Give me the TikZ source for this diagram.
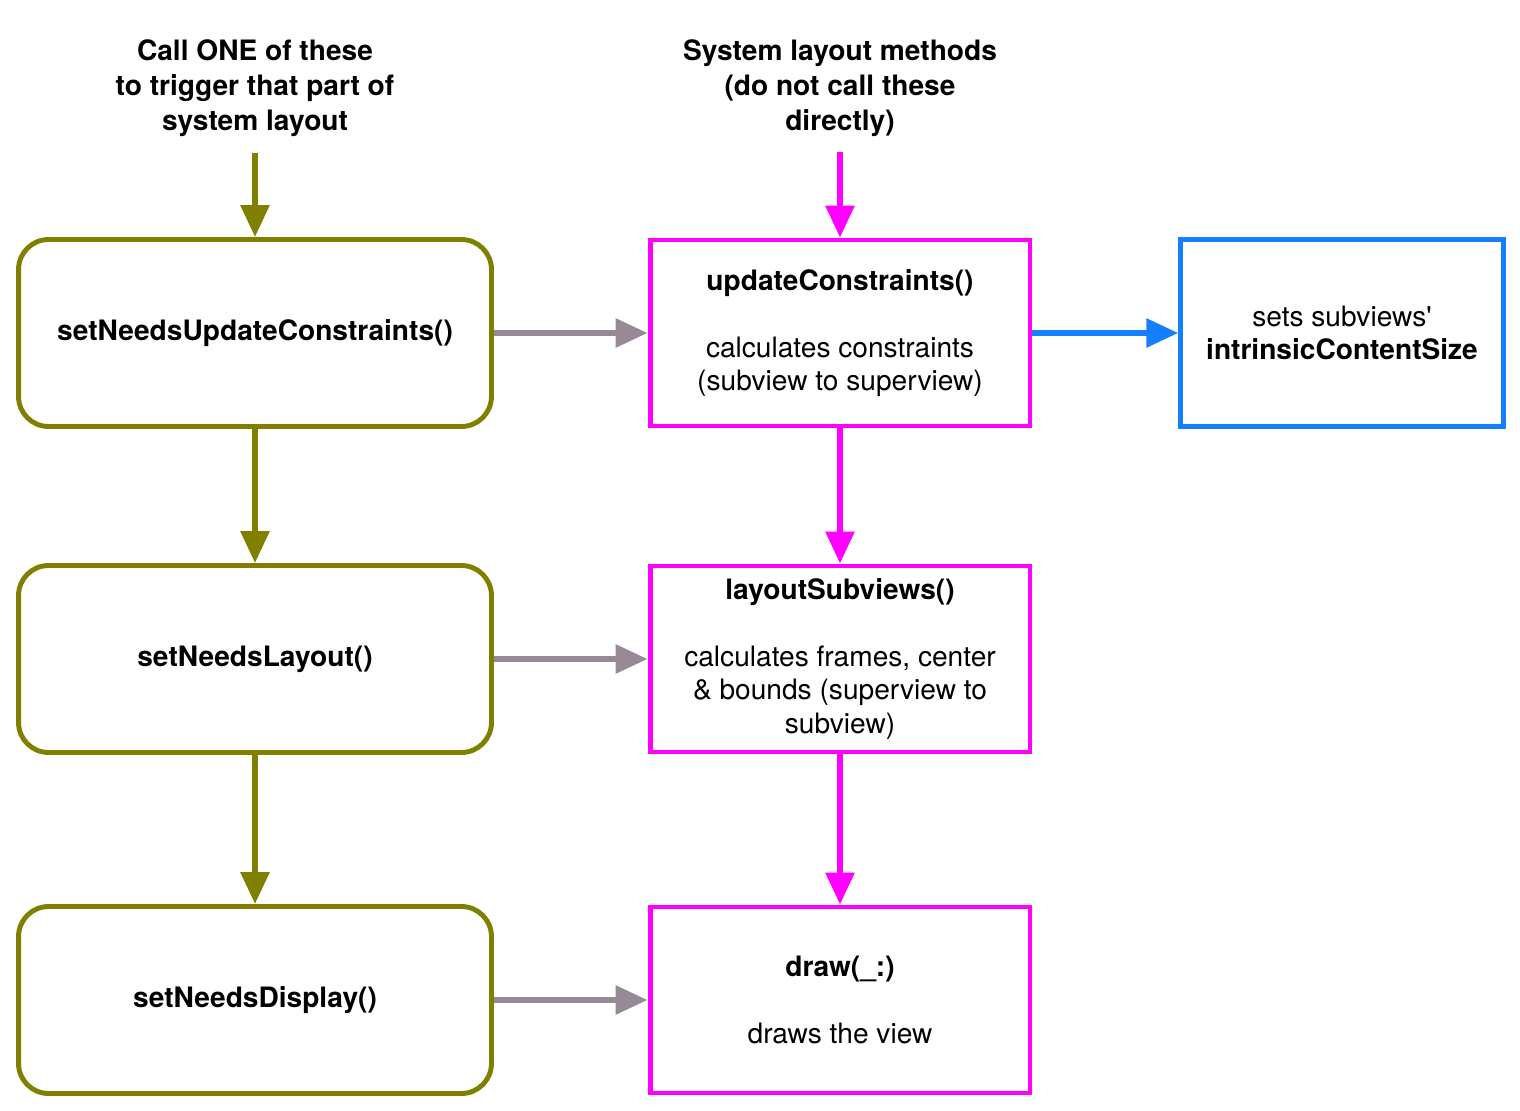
\documentclass[tikz,border=0pt]{standalone}
\usepackage{fontspec}
\setmainfont{TeX Gyre Heros}
\usetikzlibrary{arrows.meta,positioning}
\definecolor{trigolive}{RGB}{128,128,0}
\definecolor{sysmagenta}{RGB}{255,0,255}
\definecolor{subblue}{RGB}{21,128,255}
\definecolor{flowgray}{RGB}{151,138,151}

\begin{document}
\begin{tikzpicture}[x=0.02cm,y=-0.02cm,-{Triangle[length=0.64cm,width=0.56cm]},
                    line width=3.4pt,
                    every node/.style={font=\fontsize{16}{19}\selectfont,align=center},
                    trigger/.style={draw=trigolive,line width=2.8pt,rounded corners=0.6cm,
                                    minimum width=9.46cm,minimum height=3.74cm,font=\fontsize{16}{19}\selectfont\bfseries},
                    sysbox/.style={draw=sysmagenta,line width=2.8pt,minimum width=7.6cm,minimum height=3.72cm},
                    blubox/.style={draw=subblue,line width=2.8pt,minimum width=6.45cm,minimum height=3.74cm},
                    heading/.style={font=\fontsize{16}{20}\selectfont\bfseries}]
  \useasboundingbox (0,0) rectangle (1520,1111);

  \node[heading] (hcall) at (255,88) {Call ONE of these\\to trigger that part of\\system layout};
  \node[heading] (hsys) at (840,88) {System layout methods\\(do not call these\\directly)};
  \coordinate (ccall) at (255,153);
  \coordinate (csys) at (840,152);

  \node[trigger] (needsupd) at (255,333) {setNeedsUpdateConstraints()};
  \node[trigger] (needslay) at (255,659) {setNeedsLayout()};
  \node[trigger] (needsdisp) at (255,1000) {setNeedsDisplay()};

  \node[sysbox] (updcons) at (840,333) {\textbf{updateConstraints()}\\[19pt]calculates constraints\\(subview to superview)};
  \node[sysbox] (laysub) at (840,659) {\textbf{layoutSubviews()}\\[19pt]calculates frames, center\\\& bounds (superview to\\subview)};
  \node[sysbox] (drawv) at (840,1000) {\textbf{draw(\_:)}\\[19pt]draws the view};

  \node[blubox] (intrin) at (1342,333) {sets subviews\textquotesingle\\\textbf{intrinsicContentSize}};

  % trigger column
  \path[trigolive] (ccall) edge (needsupd)
        (needsupd) edge (needslay)
        (needslay) edge (needsdisp);
  % system column
  \path[sysmagenta] (csys) edge (updcons)
        (updcons) edge (laysub)
        (laysub) edge (drawv);
  % across
  \path[flowgray] (needsupd) edge (updcons)
        (needslay) edge (laysub)
        (needsdisp) edge (drawv);
  \path[subblue] (updcons) edge (intrin);
\end{tikzpicture}
\end{document}
